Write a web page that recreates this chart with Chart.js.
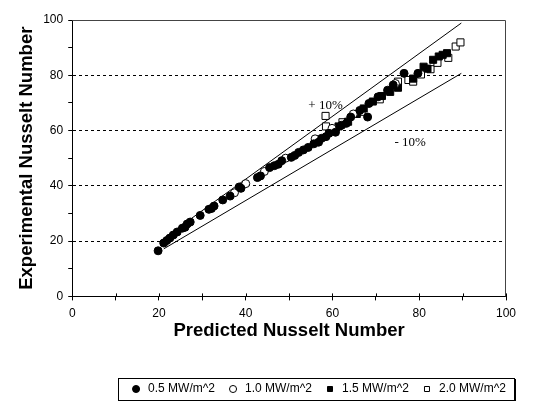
<!DOCTYPE html>
<html>
<head>
<meta charset="utf-8">
<script src="https://cdn.jsdelivr.net/npm/chart.js@4.4.1/dist/chart.umd.min.js"></script>
<style>
  html, body { margin: 0; padding: 0; background: #fff; }
  #wrap { width: 554px; height: 407px; }
</style>
</head>
<body>
<div id="wrap"><canvas id="grafico"></canvas></div>
<script>
// Datos (Predicted vs Experimental Nusselt)
const x05 = [19.8, 21.1, 21.8, 22.5, 23.3, 24.2, 25.4, 26.0, 26.5, 27.2, 29.5, 31.5, 32.1, 32.7, 34.7, 36.4, 38.5, 38.9,
  42.7, 43.4, 45.5, 46.6, 47.5, 48.3, 50.5, 51.3, 52.2, 53.3, 54.4, 55.7, 56.8, 57.5, 58.5, 59.2, 60.7, 62.1, 63.2,
  64.2, 66.3, 68.1, 68.4, 70.5, 72.7, 74.0, 76.5, 79.7];
const y05 = [16.5, 19.3, 20.2, 21.1, 22.2, 23.3, 24.7, 25.0, 26.2, 26.9, 29.3, 31.5, 31.8, 32.7, 34.9, 36.3, 39.6, 39.1,
  43.0, 43.6, 46.6, 47.3, 47.8, 49.1, 50.3, 51.0, 52.1, 53.0, 53.9, 55.2, 55.8, 57.2, 57.8, 59.0, 59.4, 61.9, 62.6,
  64.9, 67.3, 64.9, 69.8, 72.2, 74.6, 76.5, 80.7, 80.7];

const x10 = [37.4, 40.0, 44.3, 49.2, 56.0, 59.9, 64.8, 74.5];
const y10 = [37.5, 40.8, 45.2, 50.0, 57.0, 60.8, 66.0, 77.0];

const x15 = [61.4, 63.6, 65.6, 67.2, 69.3, 71.4, 73.3, 75.1, 78.6, 81.0, 81.9, 83.2, 84.5, 85.4, 86.4];
const y15 = [61.5, 63.2, 66.0, 68.0, 70.5, 72.5, 74.0, 75.5, 78.8, 83.1, 82.4, 85.6, 86.8, 87.4, 88.0];

const x20 = [58.5, 58.4, 62.3, 66.7, 70.9, 75.1, 77.5, 78.6, 80.4, 82.6, 84.2, 86.7, 88.4, 89.5];
const y20 = [61.5, 65.3, 63.0, 66.8, 71.3, 77.7, 78.3, 77.7, 80.3, 82.2, 84.5, 86.3, 90.4, 91.9];

// lineas de +10% y -10%
const masX = [20.0, 89.7];
const masY = [19.7, 98.9];
const menosX = [21.1, 89.7];
const menosY = [17.2, 80.7];

const etiquetas = ['0.5 MW/m^2', '1.0 MW/m^2', '1.5 MW/m^2', '2.0 MW/m^2'];
const ticksX = [0, 20, 40, 60, 80, 100];
const ticksY = [0, 20, 40, 60, 80, 100];

function puntos(xs, ys) {
  return xs.map((x, i) => ({ x: x, y: ys[i] }));
}

// mover la leyenda a la derecha como en el original
const moverLeyenda = {
  id: 'moverLeyenda',
  afterLayout(chart) {
    const lg = chart.legend;
    lg.left += 57;
    lg.right += 57;
    lg.top += 1;
    lg.bottom += 1;
  }
};

// Marco del area, textos +/-10% y borde de la leyenda
const extras = {
  id: 'extras',
  afterDraw(chart) {
    const ctx = chart.ctx;
    const a = chart.chartArea;
    const sx = chart.scales.x, sy = chart.scales.y;
    ctx.save();
    ctx.strokeStyle = '#444';
    ctx.lineWidth = 1;
    ctx.beginPath();
    ctx.moveTo(a.left, a.top + 0.5);
    ctx.lineTo(a.right - 0.5, a.top + 0.5);
    ctx.lineTo(a.right - 0.5, a.bottom);
    ctx.stroke();

    // marcas del eje x que cruzan el eje
    ctx.strokeStyle = '#000';
    sx.ticks.forEach(t => {
      const px = Math.round(sx.getPixelForValue(t.value)) + 0.5;
      ctx.beginPath();
      ctx.moveTo(px, a.bottom);
      ctx.lineTo(px, a.bottom - 3);
      ctx.stroke();
    });

    ctx.fillStyle = '#000';
    ctx.font = '13px "Liberation Serif", "Times New Roman", serif';
    ctx.textAlign = 'center';
    ctx.textBaseline = 'middle';
    ctx.fillText('+ 10%', sx.getPixelForValue(58.4), sy.getPixelForValue(69.0));
    ctx.fillText('- 10%', sx.getPixelForValue(77.9), sy.getPixelForValue(55.6));

    const cajas = chart.legend.legendHitBoxes;
    if (cajas && cajas.length) {
      const izq = Math.min(...cajas.map(c => c.left)) - 12;
      const der = Math.max(...cajas.map(c => c.left + c.width)) + 8;
      const arr = cajas[0].top - 5;
      const aba = cajas[0].top + cajas[0].height + 5;
      ctx.strokeStyle = '#000';
      ctx.lineWidth = 1;
      ctx.strokeRect(Math.round(izq) + 0.5, Math.round(arr) + 0.5, Math.round(der - izq), Math.round(aba - arr));
      ctx.lineWidth = 2;
      ctx.beginPath();
      ctx.moveTo(Math.round(der) + 1, Math.round(arr) + 1);
      ctx.lineTo(Math.round(der) + 1, Math.round(aba) + 1);
      ctx.stroke();
    }
    ctx.restore();
  }
};

Chart.defaults.font.family = '"Liberation Sans", Arial, sans-serif';
Chart.defaults.color = '#000';

const ctx = document.getElementById('grafico').getContext('2d');
window.grafico = new Chart(ctx, {
  type: 'scatter',
  data: {
    datasets: [
      {
        label: etiquetas[0], data: puntos(x05, y05), pointStyle: 'circle', pointRadius: 4,
        backgroundColor: '#000', borderColor: '#000', borderWidth: 1
      },
      {
        label: etiquetas[1], data: puntos(x10, y10), pointStyle: 'circle', pointRadius: 4,
        backgroundColor: '#fff', borderColor: '#000', borderWidth: 1
      },
      {
        label: etiquetas[2], data: puntos(x15, y15), pointStyle: 'rect', pointRadius: 5,
        backgroundColor: '#000', borderColor: '#000', borderWidth: 1
      },
      {
        label: etiquetas[3], data: puntos(x20, y20), pointStyle: 'rect', pointRadius: 5,
        backgroundColor: '#fff', borderColor: '#000', borderWidth: 1
      },
      {
        label: 'mas', type: 'line', data: puntos(masX, masY), borderColor: '#000', borderWidth: 1,
        pointRadius: 0, fill: false, order: 10
      },
      {
        label: 'menos', type: 'line', data: puntos(menosX, menosY), borderColor: '#000', borderWidth: 1,
        pointRadius: 0, fill: false, order: 10
      }
    ]
  },
  options: {
    responsive: true,
    maintainAspectRatio: false,
    animation: false,
    layout: { padding: { left: 16, right: 48, top: 20, bottom: 3 } },
    plugins: {
      tooltip: { enabled: false },
      legend: {
        position: 'bottom',
        labels: {
          filter: item => etiquetas.includes(item.text),
          usePointStyle: true,
          boxHeight: 5,
          padding: 12,
          font: { size: 12 }
        }
      }
    },
    scales: {
      x: {
        type: 'linear', min: 0, max: 100,
        ticks: {
          stepSize: 10, autoSkip: false, maxRotation: 0, padding: 6, font: { size: 12 },
          callback: v => ticksX.includes(v) ? v : ''
        },
        grid: { drawOnChartArea: false, tickLength: 4, tickColor: '#000' },
        border: { color: '#000', width: 1 },
        title: {
          display: true, text: 'Predicted Nusselt Number',
          font: { size: 18.5, weight: 'bold' }, padding: { top: -7, bottom: 28 }
        }
      },
      y: {
        type: 'linear', min: 0, max: 100,
        ticks: {
          stepSize: 10, autoSkip: false, padding: 5, font: { size: 12 },
          callback: v => ticksY.includes(v) ? v : ''
        },
        grid: {
          tickLength: 4, tickColor: '#000',
          color: c => (c.tick && c.tick.value % 20 === 0 && c.tick.value > 0 && c.tick.value < 100) ? '#000' : 'rgba(0,0,0,0)'
        },
        border: { color: '#000', width: 1, dash: [3, 3] },
        title: {
          display: true, text: 'Experimental Nusselt Number',
          font: { size: 18.5, weight: 'bold' }, padding: { top: 0, bottom: 0 }
        }
      }
    }
  },
  plugins: [moverLeyenda, extras]
});
</script>
</body>
</html>
